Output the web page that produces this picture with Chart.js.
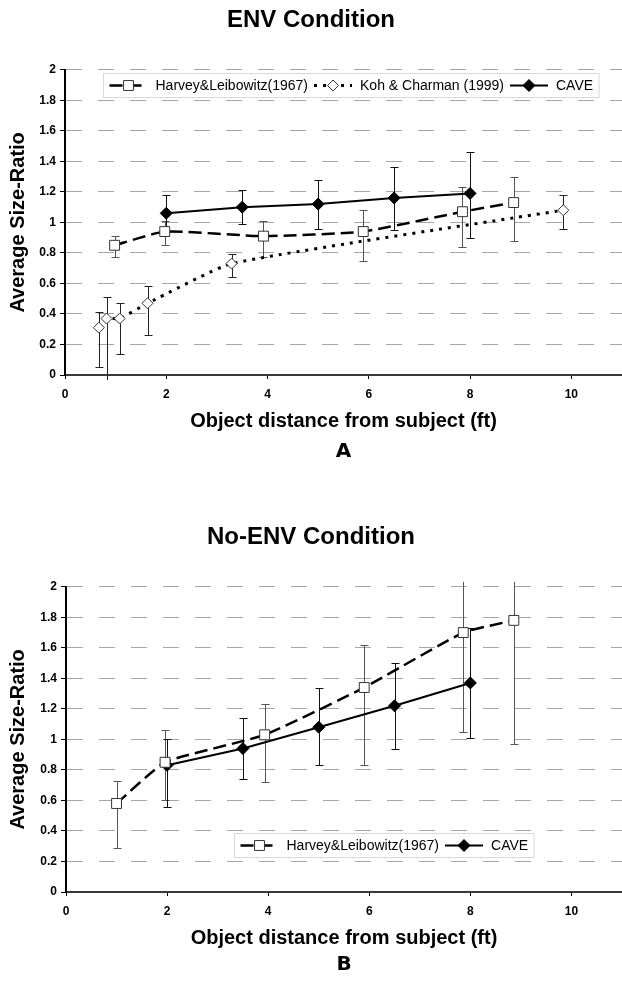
<!DOCTYPE html>
<html>
<head>
<meta charset="utf-8">
<script src="https://cdn.jsdelivr.net/npm/chart.js@4.4.1/dist/chart.umd.min.js"></script>
<style>
  body { margin: 0; background: #fff; }
  .panel { position: relative; width: 622px; }
</style>
</head>
<body>
<div class="panel" style="height:480px"><canvas id="envChart"></canvas></div>
<div class="panel" style="height:506px"><canvas id="noEnvChart"></canvas></div>
<script>
// Panel A - ENV condition
const envHarveyX = [0.98, 1.97, 3.92, 5.89, 7.85, 8.86]
const envHarveyY = [0.85, 0.94, 0.91, 0.94, 1.07, 1.13]
const envHarveyLo = [0.77, 0.85, 0.77, 0.75, 0.84, 0.88]
const envHarveyHi = [0.91, 1.01, 1.01, 1.08, 1.23, 1.30]

const envKohX = [0.67, 0.82, 1.08, 1.63, 3.29, 9.84]
const envKohY = [0.31, 0.37, 0.37, 0.47, 0.73, 1.08]
const envKohLo = [0.05, -0.05, 0.14, 0.26, 0.64, 0.96]
const envKohHi = [0.41, 0.51, 0.47, 0.58, 0.79, 1.18]

const envCaveX = [2, 3.5, 5, 6.5, 8]
const envCaveY = [1.06, 1.10, 1.12, 1.16, 1.19]
const envCaveLo = [0.94, 0.99, 0.96, 0.95, 0.90]
const envCaveHi = [1.18, 1.21, 1.28, 1.36, 1.46]

// Panel B - No-ENV condition
const noEnvHarveyX = [1.0, 1.96, 3.93, 5.9, 7.86, 8.86]
const noEnvHarveyY = [0.58, 0.85, 1.03, 1.34, 1.70, 1.78]
const noEnvHarveyLo = [0.29, 0.60, 0.72, 0.83, 1.05, 0.97]
const noEnvHarveyHi = [0.73, 1.06, 1.23, 1.62, 2.35, 2.59]

const noEnvCaveX = [2, 3.5, 5, 6.5, 8]
const noEnvCaveY = [0.83, 0.94, 1.08, 1.22, 1.37]
const noEnvCaveLo = [0.56, 0.74, 0.83, 0.94, 1.01]
const noEnvCaveHi = [1.00, 1.14, 1.34, 1.50, 1.73]

const xTicks = [0, 2, 4, 6, 8, 10]

Chart.defaults.font.family = '"Liberation Sans", Arial, sans-serif'
Chart.defaults.color = '#000'

function series(xs, ys, lo, hi) {
  return xs.map((x, i) => ({ x, y: ys[i], yMin: lo[i], yMax: hi[i] }))
}

const harveyStyle = {
  label: 'Harvey&Leibowitz(1967)',
  borderColor: '#000',
  borderWidth: 2.5,
  borderDash: [13, 6],
  pointStyle: 'rect',
  pointRadius: 7,
  pointBackgroundColor: '#fff',
  pointBorderColor: '#333',
  pointBorderWidth: 1,
  tension: 0.15,
  errorColor: '#555'
}

const kohStyle = {
  label: 'Koh & Charman (1999)',
  borderColor: '#000',
  borderWidth: 3,
  borderDash: [3, 6],
  pointStyle: 'rectRot',
  pointRadius: 5.5,
  pointBackgroundColor: '#fff',
  pointBorderColor: '#333',
  pointBorderWidth: 1,
  tension: 0.15,
  errorColor: '#222'
}

const caveStyle = {
  label: 'CAVE',
  borderColor: '#000',
  borderWidth: 2,
  borderDash: [],
  pointStyle: 'rectRot',
  pointRadius: 6,
  pointBackgroundColor: '#000',
  pointBorderColor: '#000',
  pointBorderWidth: 1,
  tension: 0,
  errorColor: '#111'
}

// vertical error bars with caps, drawn under the lines
const errorBars = {
  id: 'errorBars',
  beforeDatasetsDraw(chart) {
    const { ctx, chartArea, scales: { y } } = chart
    ctx.save()
    ctx.beginPath()
    ctx.rect(chartArea.left - 10, chartArea.top - 5, chartArea.width + 20, chartArea.height + 10)
    ctx.clip()
    chart.data.datasets.forEach((ds, di) => {
      const meta = chart.getDatasetMeta(di)
      ctx.strokeStyle = ds.errorColor || '#000'
      ctx.lineWidth = 1
      meta.data.forEach((pt, i) => {
        const raw = ds.data[i]
        const px = Math.round(pt.x) + 0.5
        const top = Math.round(y.getPixelForValue(raw.yMax)) + 0.5
        const bottom = Math.round(y.getPixelForValue(raw.yMin)) + 0.5
        ctx.beginPath()
        ctx.moveTo(px, top)
        ctx.lineTo(px, bottom)
        ctx.moveTo(px - 4, top)
        ctx.lineTo(px + 4, top)
        ctx.moveTo(px - 4, bottom)
        ctx.lineTo(px + 4, bottom)
        ctx.stroke()
      })
    })
    ctx.restore()
  }
}

function drawMarker(ctx, ds, x, y) {
  ctx.save()
  ctx.fillStyle = ds.pointBackgroundColor
  ctx.strokeStyle = ds.pointBorderColor
  ctx.lineWidth = ds.pointBorderWidth
  ctx.setLineDash([])
  ctx.beginPath()
  if (ds.pointStyle === 'rect') {
    const s = ds.pointRadius * Math.SQRT1_2
    ctx.rect(x - s, y - s, 2 * s, 2 * s)
  } else {
    const r = ds.pointRadius
    ctx.moveTo(x, y - r)
    ctx.lineTo(x + r, y)
    ctx.lineTo(x, y + r)
    ctx.lineTo(x - r, y)
    ctx.closePath()
  }
  ctx.fill()
  ctx.stroke()
  ctx.restore()
}

// boxed legend sitting inside the plot area, like the original
const boxLegend = {
  id: 'boxLegend',
  afterDatasetsDraw(chart, args, opts) {
    const { ctx, chartArea } = chart
    const ordered = opts.order.map(i => chart.data.datasets[i])
    const sampleW = 38
    const pad = 6
    const gap = 8
    const itemGap = 6
    const h = 24
    ctx.save()
    ctx.font = '14px "Liberation Sans", Arial, sans-serif'
    let w = pad * 2 - itemGap
    ordered.forEach(ds => { w += sampleW + gap + ctx.measureText(ds.label).width + itemGap })
    const left = Math.round(chartArea.left + opts.offsetX) + 0.5
    const top = Math.round(opts.fromBottom ? chartArea.bottom - opts.offsetY : chartArea.top + opts.offsetY) + 0.5
    ctx.fillStyle = '#fff'
    ctx.strokeStyle = '#d8d8d8'
    ctx.lineWidth = 1
    ctx.fillRect(left, top, w, h)
    ctx.strokeRect(left, top, w, h)
    let x = left + pad
    const cy = top + h / 2
    ordered.forEach(ds => {
      ctx.save()
      ctx.strokeStyle = ds.borderColor
      ctx.lineWidth = ds.borderWidth
      ctx.setLineDash(ds.borderDash)
      ctx.beginPath()
      ctx.moveTo(x, cy)
      ctx.lineTo(x + sampleW, cy)
      ctx.stroke()
      ctx.restore()
      drawMarker(ctx, ds, x + sampleW / 2, cy)
      x += sampleW + gap
      ctx.fillStyle = '#000'
      ctx.textBaseline = 'middle'
      ctx.fillText(ds.label, x, cy + 1)
      x += ctx.measureText(ds.label).width + itemGap
    })
    ctx.restore()
  }
}

function makeChart(id, cfg) {
  return new Chart(document.getElementById(id), {
    type: 'scatter',
    data: { datasets: cfg.datasets.map(d => ({ showLine: true, ...d })) },
    plugins: [errorBars, boxLegend],
    options: {
      responsive: true,
      maintainAspectRatio: false,
      animation: false,
      events: [],
      layout: { autoPadding: false, padding: { left: 0, right: 0, top: 0, bottom: cfg.padBottom } },
      plugins: {
        legend: { display: false },
        tooltip: { enabled: false },
        title: {
          display: true,
          text: cfg.title,
          font: { size: 24, weight: 'bold' },
          color: '#000',
          padding: { top: cfg.titleTop, bottom: cfg.titleBottom }
        },
        subtitle: {
          display: true,
          position: 'bottom',
          fullSize: false,
          text: cfg.letter,
          font: { family: '"DejaVu Sans", sans-serif', size: 20, weight: 'bold' },
          color: '#000',
          padding: { top: cfg.letterTop, bottom: 0 }
        },
        boxLegend: cfg.legend
      },
      scales: {
        x: {
          type: 'linear',
          min: 0,
          max: 11,
          afterBuildTicks: (scale) => { scale.ticks = xTicks.map(v => ({ value: v })) },
          afterFit: (scale) => {
            scale.height = 60
            scale.paddingLeft = 0
            scale.paddingRight = 0
          },
          ticks: { font: { size: 12, weight: 'bold' }, color: '#000', padding: 8, maxRotation: 0 },
          grid: { drawOnChartArea: false, tickLength: 4, tickColor: '#000', tickWidth: 1 },
          border: { color: '#3a3a3a', width: 2 },
          title: {
            display: true,
            text: 'Object distance from subject (ft)',
            font: { size: 20, weight: 'bold' },
            color: '#000',
            padding: { top: 7, bottom: 2 }
          }
        },
        y: {
          min: 0,
          max: 2,
          afterFit: (scale) => {
            scale.width = cfg.axisLeft
            scale.paddingBottom = 0
          },
          ticks: {
            stepSize: 0.2,
            font: { size: 12, weight: 'bold' },
            color: '#000',
            padding: 4,
            callback: (v) => String(Math.round(v * 10) / 10)
          },
          grid: { color: '#a6a6a6', lineWidth: 1, tickLength: 5, tickColor: '#000', tickWidth: 1 },
          border: { color: '#000', width: 2, dash: [16, 16] },
          title: {
            display: true,
            text: 'Average Size-Ratio',
            font: { size: 20, weight: 'bold' },
            color: '#000',
            padding: { top: 6, bottom: 4 }
          }
        }
      }
    }
  })
}

makeChart('envChart', {
  title: 'ENV Condition',
  letter: 'A',
  titleTop: 6,
  titleBottom: 35,
  letterTop: 5,
  padBottom: 16,
  axisLeft: 65,
  legend: { order: [0, 1, 2], offsetX: 38, offsetY: 3, fromBottom: false },
  datasets: [
    { ...harveyStyle, data: series(envHarveyX, envHarveyY, envHarveyLo, envHarveyHi) },
    { ...kohStyle, data: series(envKohX, envKohY, envKohLo, envKohHi) },
    { ...caveStyle, data: series(envCaveX, envCaveY, envCaveLo, envCaveHi) }
  ]
})

makeChart('noEnvChart', {
  title: 'No-ENV Condition',
  letter: 'B',
  titleTop: 43,
  titleBottom: 35,
  letterTop: 1,
  padBottom: 9,
  axisLeft: 66,
  legend: { order: [0, 1], offsetX: 168, offsetY: 59, fromBottom: true },
  datasets: [
    { ...harveyStyle, data: series(noEnvHarveyX, noEnvHarveyY, noEnvHarveyLo, noEnvHarveyHi) },
    { ...caveStyle, data: series(noEnvCaveX, noEnvCaveY, noEnvCaveLo, noEnvCaveHi) }
  ]
})
</script>
</body>
</html>
